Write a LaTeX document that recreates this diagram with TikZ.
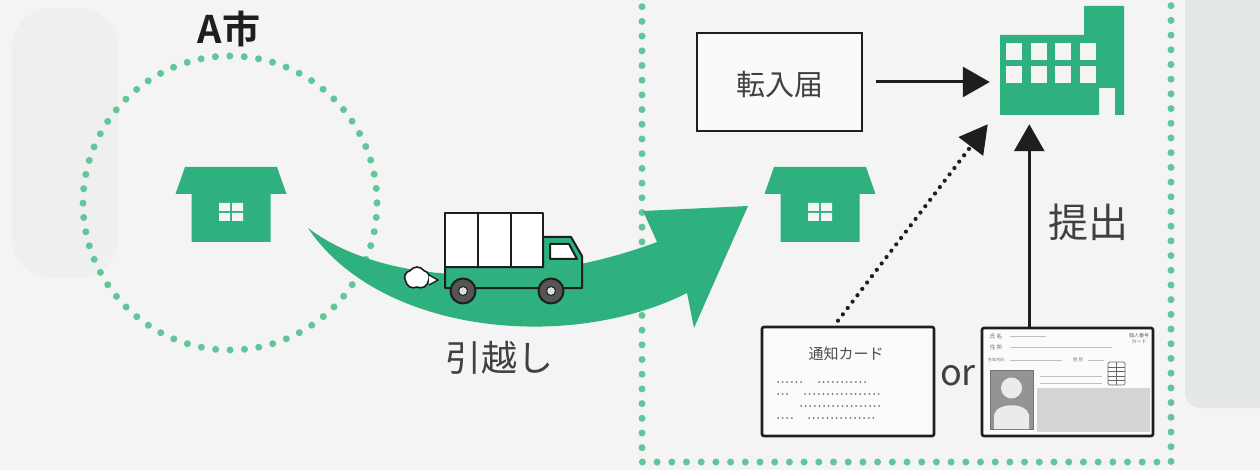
\documentclass[tikz,border=0pt]{standalone}
\usepackage{fontspec}
\newfontfamily\jp{Noto Sans CJK JP}[BoldFont={Noto Sans CJK JP Bold}]
\usetikzlibrary{arrows.meta,calc,shapes.symbols}
\definecolor{paper}{RGB}{243,244,243}
\definecolor{leaf}{RGB}{46,176,127}
\definecolor{dotgreen}{RGB}{98,198,152}
\definecolor{ink}{RGB}{30,30,30}
\definecolor{tabgray}{RGB}{228,232,231}
\definecolor{wheelgray}{RGB}{85,85,85}
\tikzset{
  greendots/.style={draw=dotgreen, line width=7pt, line cap=round, dash pattern=on 0pt off #1},
  house/.pic={
    \fill[leaf] (-46,-45) -- (46,-45) -- (55.5,-18) -- (39.5,-18) -- (39.5,30)
      -- (-39.5,30) -- (-39.5,-18) -- (-55.5,-18) -- cycle;
    \fill[paper] (-12,-9) rectangle (-1,-1) (1,-9) rectangle (12,-1)
      (-12,1) rectangle (-1,9) (1,1) rectangle (12,9);
  },
  cardbox/.style={draw=ink, line width=2.6pt, fill=white!60!paper, rounded corners=2pt, inner sep=0pt},
  flow/.style={draw=ink, line width=3pt, -{Triangle[length=27pt,width=30pt]}},
  jplabel/.style={font=\jp, text=ink!85, inner sep=0pt},
  tiny/.style={font=\jp\fontsize{5.5}{6}\selectfont, text=black!60, inner sep=0pt},
  fieldline/.style={draw=black!25, line width=0.6pt},
  bullet/.style={fill=black!55}
}
\begin{document}
\begin{tikzpicture}[x=1pt,y=-1pt]
\useasboundingbox (0,0) rectangle (1260,470);
\fill[paper] (0,0) rectangle (1260,470);

% faint side panels
\fill[tabgray!35!paper, rounded corners=40pt] (12,8) rectangle (118,278);
\fill[tabgray, rounded corners=16pt] (1185,-30) rectangle (1290,408);

% ---- city A ----
\node[font=\jp\bfseries\fontsize{38}{38}\selectfont, text=ink, inner sep=0pt] (cityA) at (229,29) {A市};
\draw[greendots=14.43pt] (230,203) circle[radius=147];
\pic (houseA) at (231,212) {house};

% ---- destination frame ----
\draw[greendots=14.7pt] (642,-8) -- (642,462) -- (1171,462) -- (1171,-8);

% ---- moving arrow ----
\fill[leaf] (308,228) .. controls (390,290) and (540,286) .. (657,242)
  -- (643,211) -- (748,206) -- (694,328) -- (687,293)
  .. controls (570,352) and (380,335) .. (308,228) -- cycle;

% ---- truck ----
\begin{scope}[line width=2pt, draw=ink, line join=round]
  \filldraw[fill=leaf] (445,267) -- (543,267) -- (543,237) -- (571,237) -- (582,256)
    -- (582,288) -- (445,288) -- cycle;
  \filldraw[fill=white] (550,244) -- (569,244) -- (577,259) -- (550,259) -- cycle;
  \filldraw[fill=white] (445,213) rectangle (543,267);
  \draw (478,213) -- (478,267) (511,213) -- (511,267);
  \foreach \wx in {463,551}{
    \filldraw[fill=wheelgray] (\wx,291) circle[radius=12.5];
    \filldraw[fill=black!12, line width=1pt] (\wx,291) circle[radius=4.5];
  }
\end{scope}
\node[cloud, cloud puffs=5, cloud puff arc=110, draw=ink, line width=1.6pt, fill=white,
  minimum width=25pt, minimum height=22pt, inner sep=0pt, aspect=1.1] (smoke) at (417,278) {};
\filldraw[draw=ink, fill=white, line width=1.4pt, line join=round]
  (429,275) -- (438,280) -- (429,285);

\node[jplabel, font=\jp\fontsize{36}{36}\selectfont] (moving) at (499,358) {引越し};

% ---- new home ----
\pic (houseB) at (820,212) {house};

% ---- moving-in notice ----
\node[draw=ink, line width=2.6pt, fill=white!50!paper, minimum width=165pt, minimum height=98pt,
  inner sep=0pt] (tennyu) at (779.5,82) {};
\node[jplabel, font=\jp\fontsize{29}{29}\selectfont] (tennyutext) at (780,84) {転入届};

% ---- city hall ----
\node[minimum width=124pt, minimum height=109pt, inner sep=0pt] (cityhall) at (1062,60.5) {};
\fill[leaf] (1000,35) -- (1084,35) -- (1084,6) -- (1124,6) -- (1124,115) -- (1115,115)
  -- (1115,88) -- (1099,88) -- (1099,115) -- (1000,115) -- cycle;
\foreach \wx in {1006,1030.5,1055,1080}{
  \fill[paper] (\wx,43) rectangle ++(16,17);
  \fill[paper] (\wx,66) rectangle ++(16,17);
}

% ---- notification card ----
\node[cardbox, minimum width=172pt, minimum height=109pt] (notice) at (848,381.5) {};
\node[font=\jp\fontsize{15}{15}\selectfont, text=black!70, inner sep=0pt] (noticetitle) at (846,354) {通知カード};
\foreach \n/\x/\y in {6/778/382, 11/819/382, 3/778/394, 17/805/394, 18/801/406, 4/778/418, 15/809/418}{
  \foreach \k in {1,...,\n}{
    \fill[bullet] ({\x+(\k-1)*4.6},\y) circle[radius=1];
  }
}

\node[font=\jp\fontsize{36}{36}\selectfont, text=ink!85, inner sep=0pt] (ortext) at (958,376) {or};

% ---- individual number card ----
\node[cardbox, minimum width=171pt, minimum height=108pt] (mncard) at (1067.5,382) {};
\fill[black!17] (1037,388) rectangle (1150,432);
\node[tiny] (f1) at (996,336) {氏 名};
\draw[fieldline] (1010,336) -- (1046,336);
\node[tiny] (f2) at (996,347) {住 所};
\draw[fieldline] (1010,347) -- (1112,347);
\node[tiny, font=\jp\fontsize{4}{5}\selectfont] (f3) at (996,360) {生年月日};
\draw[fieldline] (1010,360) -- (1062,360);
\node[tiny, font=\jp\fontsize{4.5}{5}\selectfont] (f4) at (1078,360) {性 別};
\draw[fieldline] (1088,360) -- (1104,360);
\node[tiny, font=\jp\fontsize{5}{6}\selectfont, align=center] (f5) at (1139,339) {個人番号\\カード};
\draw[fieldline] (1040,376) -- (1102,376);
\draw[fieldline] (1040,383) -- (1102,383);
% photo
\filldraw[fill=black!42, draw=black!55, line width=0.8pt] (990,370) rectangle (1033,429);
\fill[black!8] (1011.5,388) circle[radius=10.5];
\fill[black!8] (994,429) -- (994,415) .. controls (996,402) and (1027,402) .. (1029,415) -- (1029,429) -- cycle;
% chip
\begin{scope}[draw=black!60, line width=0.7pt]
  \draw[rounded corners=1.5pt] (1108,362) rectangle (1125,385);
  \draw (1116.5,362) -- (1116.5,385);
  \foreach \cy in {367,371.5,376,380.5} \draw (1108,\cy) -- (1125,\cy);
\end{scope}

% ---- connectors to the city hall ----
\draw[flow, shorten <=13pt, shorten >=10pt] (tennyu.east) -- (cityhall.west |- tennyu.east);
\coordinate (dotstart) at ($(notice.north)+(-10,-5)$);
\coordinate (dotend) at ($(cityhall.south west)+(-12,9)$);
\draw[draw=ink, line width=4.2pt, line cap=round, dash pattern=on 0pt off 8pt,
  -{Triangle[length=28pt,width=30pt]}] (dotstart) -- (dotend);
\coordinate (upstart) at ($(mncard.north west)!0.28!(mncard.north east)$);
\draw[flow, shorten >=9pt] (upstart) -- (upstart |- cityhall.south);
\node[jplabel, font=\jp\fontsize{40}{40}\selectfont] (submit) at (1088,222) {提出};

\end{tikzpicture}
\end{document}
